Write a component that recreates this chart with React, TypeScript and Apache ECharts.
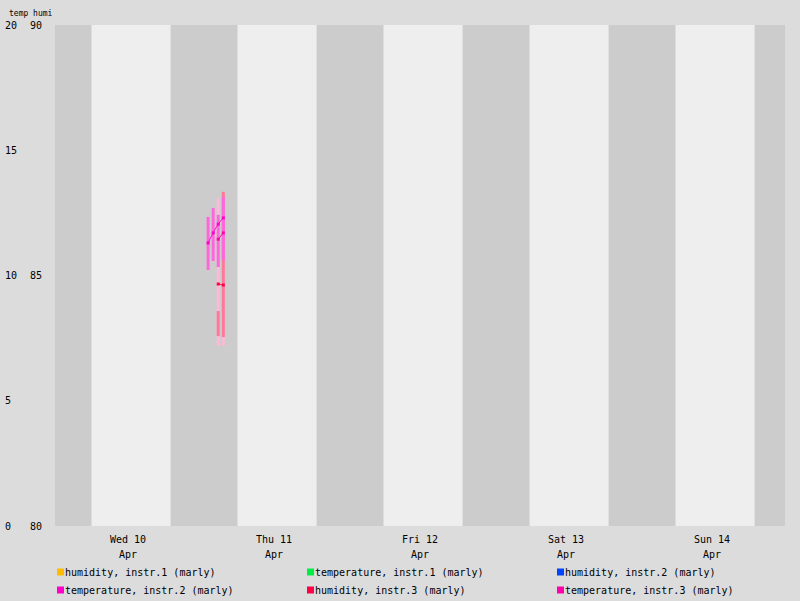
import React, { useEffect, useRef } from 'react';
import * as echarts from 'echarts';

const H = 3600 * 1000;
const DAY = 24 * H;
const START = Date.UTC(2024, 3, 10);
const END = Date.UTC(2024, 3, 15);

// sample times (Thu 11, early morning)
const times = [START + DAY + 70 * 60000, START + DAY + 120 * 60000, START + DAY + 170 * 60000, START + DAY + 220 * 60000];

const temp2Avg = [11.3, 11.7, 12.05, 12.3];
const temp2Min = [10.22, 10.58, 10.34, 10.62];
const temp2Max = [12.34, 12.69, 12.42, 13.13];
const temp3Avg = [null, null, 11.45, 11.7];
const temp3Min = [null, null, 7.19, 7.19];
const temp3Max = [null, null, 13.09, 12.9];
const humi3Avg = [null, null, 84.83, 84.81];
const humi3Min = [null, null, 83.79, 83.77];
const humi3Max = [null, null, 84.29, 86.67];

const names = [
  'humidity, instr.1 (marly)',
  'temperature, instr.1 (marly)',
  'humidity, instr.2 (marly)',
  'temperature, instr.2 (marly)',
  'humidity, instr.3 (marly)',
  'temperature, instr.3 (marly)',
];
const colors = ['#ffbb00', '#00ee44', '#0044ff', '#ff00cc', '#ff0044', '#ff00aa'];
const dayNames = ['Sun', 'Mon', 'Tue', 'Wed', 'Thu', 'Fri', 'Sat'];

const FONT = 'DejaVu Sans Mono';

const rangeData = (mins: (number | null)[], maxs: (number | null)[]) =>
  times.map((t, i) => [t, mins[i], maxs[i]]).filter((d) => d[1] != null);

const rangeSeries = (name: string, data: any[], color: string, yAxisIndex: number) => ({
  name,
  type: 'custom',
  yAxisIndex,
  silent: true,
  data,
  renderItem: (_p: any, api: any) => {
    const a = api.coord([api.value(0), api.value(1)]);
    const b = api.coord([api.value(0), api.value(2)]);
    return {
      type: 'rect',
      shape: { x: a[0] - 1.5, y: b[1], width: 3, height: a[1] - b[1] },
      style: { fill: color },
    };
  },
});

const App: React.FC = () => {
  const ref = useRef<HTMLDivElement>(null);

  useEffect(() => {
    if (!ref.current) return;
    const chart = echarts.init(ref.current, undefined, { renderer: 'svg' });

    const nights: any[] = [];
    nights.push([{ xAxis: START }, { xAxis: START + 6 * H }]);
    for (let t = START + 19 * H; t < END; t += DAY) {
      nights.push([{ xAxis: t }, { xAxis: Math.min(t + 11 * H, END) }]);
    }

    const lineSeries = (i: number, y: (number | null)[], yAxisIndex: number) => ({
      name: names[i],
      type: 'line',
      yAxisIndex,
      data: times.map((t, k) => [t, y[k]]).filter((d) => d[1] != null),
      symbol: 'rect',
      symbolSize: 3,
      lineStyle: { width: 1, color: colors[i] },
      itemStyle: { color: colors[i] },
      smooth: true,
    });

    chart.setOption({
      animation: false,
      backgroundColor: '#dcdcdc',
      textStyle: { fontFamily: FONT },
      title: {
        text: 'temp humi',
        left: 4,
        top: 4,
        textStyle: { fontSize: 8, fontWeight: 'normal', color: '#000', fontFamily: FONT },
      },
      grid: { left: 55, right: 15, top: 25, bottom: 75, show: true, backgroundColor: '#eeeeee', borderWidth: 0 },
      legend: names.map((n, i) => ({
        data: [n],
        left: 57 + (i % 3) * 250,
        top: 567 + Math.floor(i / 3) * 18,
        icon: 'rect',
        itemWidth: 7,
        itemHeight: 7,
        itemGap: 0,
        padding: 0,
        selectedMode: false,
        textStyle: { fontFamily: FONT, fontSize: 10, color: '#000', padding: [0, 0, 0, -4] },
      })),
      xAxis: {
        type: 'value',
        min: START,
        max: END,
        interval: 12 * H,
        axisLine: { show: false },
        axisTick: { show: false },
        splitLine: { show: false },
        axisLabel: {
          color: '#000',
          fontFamily: FONT,
          fontSize: 10,
          lineHeight: 15,
          margin: 6,
          formatter: (v: number) => {
            const d = new Date(v);
            if (d.getUTCHours() !== 12) return '';
            return `${dayNames[d.getUTCDay()]} ${d.getUTCDate()}\nApr`;
          },
        },
      },
      yAxis: [
        {
          type: 'value', min: 0, max: 20, interval: 5,
          axisLine: { show: false }, axisTick: { show: false }, splitLine: { show: false },
          axisLabel: { align: 'left', margin: 50, color: '#000', fontFamily: FONT, fontSize: 10 },
        },
        {
          type: 'value', min: 80, max: 90, interval: 2.5, position: 'left',
          axisLine: { show: false }, axisTick: { show: false }, splitLine: { show: false },
          axisLabel: {
            align: 'left', margin: 25, color: '#000', fontFamily: FONT, fontSize: 10,
            formatter: (v: number) => (v % 5 === 0 ? String(v) : ''),
          },
        },
      ],
      series: [
        {
          name: 'bands',
          type: 'line',
          data: [],
          markArea: { silent: true, itemStyle: { color: '#cccccc' }, data: nights },
        },
        rangeSeries('r-temp3', rangeData(temp3Min, temp3Max), '#ffb8d8', 0),
        rangeSeries('r-humi3', rangeData(humi3Min, humi3Max), '#ff7799', 1),
        rangeSeries('r-temp2', rangeData(temp2Min, temp2Max), '#ff66dd', 0),
        lineSeries(0, [null, null, null, null], 1),
        lineSeries(1, [null, null, null, null], 0),
        lineSeries(2, [null, null, null, null], 1),
        lineSeries(3, temp2Avg, 0),
        lineSeries(4, humi3Avg, 1),
        lineSeries(5, temp3Avg, 0),
      ],
    });

    return () => chart.dispose();
  }, []);

  return <div ref={ref} style={{ position: 'fixed', left: 0, top: 0, width: 800, height: 601 }} />;
};

export default App;
